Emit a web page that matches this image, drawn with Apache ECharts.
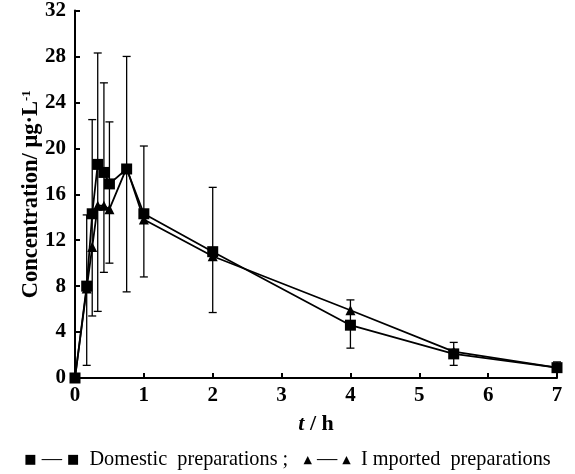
<!DOCTYPE html>
<html>
<head>
<meta charset="utf-8">
<script src="https://cdn.jsdelivr.net/npm/echarts@6/dist/echarts.min.js"></script>
<style>
  html, body { margin: 0; padding: 0; background: #fff; }
  #chart { width: 575px; height: 474px; }
</style>
</head>
<body>
<div id="chart"></div>
<script>
  // 时间点 (h)
  var times = [0, 0.17, 0.25, 0.33, 0.42, 0.5, 0.75, 1, 2, 4, 5.5, 7]
  // 国产制剂
  var domestic = [0, 8.0, 14.3, 18.6, 17.9, 16.9, 18.2, 14.3, 11.0, 4.6, 2.1, 0.9]
  // 进口制剂
  var imported = [0, 7.8, 11.4, 15.0, 15.0, 14.7, 18.3, 13.8, 10.6, 5.9, 2.3, 0.9]
  // 误差棒上下端
  var errHigh = [0, 14.2, 22.5, 28.3, 25.7, 22.3, 28.0, 20.2, 16.6, 6.8, 3.1, 1.4]
  var errLow = [0, 1.1, 5.4, 5.8, 9.2, 10.0, 7.5, 8.8, 5.7, 2.6, 1.1, 0.5]
  var yTicks = [0, 4, 8, 12, 16, 20, 24, 28, 32]

  var font = 'Liberation Serif'

  function pairs(ys) {
    return times.map(function (t, i) { return [t, ys[i]] })
  }

  var errData = times.map(function (t, i) { return [t, errLow[i], errHigh[i]] })
    .filter(function (d) { return d[2] > d[1] })

  var chart = echarts.init(document.getElementById('chart'))
  var option = {
    animation: false,
    grid: { left: 75, right: 18, top: 10, bottom: 96 },
    xAxis: {
      type: 'value', min: 0, max: 7, interval: 1,
      name: '{i|t} / h',
      nameLocation: 'middle', nameGap: 35,
      nameTextStyle: {
        fontFamily: font, fontWeight: 'bold', fontSize: 22, color: '#000',
        rich: { i: { fontFamily: font, fontWeight: 'bold', fontStyle: 'italic', fontSize: 22, color: '#000' } }
      },
      axisLine: { onZero: false, lineStyle: { color: '#000', width: 2 } },
      axisTick: { inside: true, length: 5, lineStyle: { color: '#000', width: 2 } },
      axisLabel: { fontFamily: font, fontWeight: 'bold', fontSize: 21, color: '#000', margin: 7 },
      splitLine: { show: false }
    },
    yAxis: {
      type: 'value', min: 0, max: 32, interval: 4,
      name: 'Concentration/ μg·L{s|-1}',
      nameLocation: 'middle', nameGap: 32,
      nameMoveOverlap: false,
      nameTextStyle: {
        fontFamily: font, fontWeight: 'bold', fontSize: 22.5, color: '#000',
        rich: { s: { fontFamily: font, fontWeight: 'bold', fontSize: 13, color: '#000', verticalAlign: 'top', padding: [0, 0, 10, 0] } }
      },
      axisLine: { show: true, lineStyle: { color: '#000', width: 2 } },
      axisTick: { inside: true, length: 5, lineStyle: { color: '#000', width: 2 } },
      axisLabel: {
        fontFamily: font, fontWeight: 'bold', fontSize: 21, color: '#000', margin: 9,
        formatter: function (v) { return yTicks.indexOf(v) >= 0 ? String(v) : '' }
      },
      splitLine: { show: false }
    },
    series: [
      {
        type: 'custom',
        data: errData,
        z: 1,
        renderItem: function (params, api) {
          var x = api.value(0)
          var lo = api.coord([x, api.value(1)])
          var hi = api.coord([x, api.value(2)])
          var w = 4
          var st = { stroke: '#000', lineWidth: 1.3 }
          return {
            type: 'group',
            children: [
              { type: 'line', shape: { x1: lo[0], y1: lo[1], x2: hi[0], y2: hi[1] }, style: st },
              { type: 'line', shape: { x1: hi[0] - w, y1: hi[1], x2: hi[0] + w, y2: hi[1] }, style: st },
              { type: 'line', shape: { x1: lo[0] - w, y1: lo[1], x2: lo[0] + w, y2: lo[1] }, style: st }
            ]
          }
        }
      },
      {
        name: 'Imported preparations',
        type: 'line',
        data: pairs(imported),
        symbol: 'triangle', symbolSize: 10,
        lineStyle: { color: '#000', width: 1.8 },
        itemStyle: { color: '#000' },
        z: 2
      },
      {
        name: 'Domestic preparations',
        type: 'line',
        data: pairs(domestic),
        symbol: 'rect', symbolSize: 11,
        lineStyle: { color: '#000', width: 1.8 },
        itemStyle: { color: '#000' },
        z: 3
      }
    ],
    graphic: [
      {
        type: 'text', left: 'center', top: 450,
        style: {
          text: '{m|■} — {m|■}  Domestic  preparations ;   {t|▲} — {t|▲}  I mported  preparations',
          fontFamily: font, fontSize: 20.3, fill: '#000',
          rich: {
            m: { fontFamily: 'DejaVu Sans', fontSize: 13, fill: '#000' },
            t: { fontFamily: 'DejaVu Sans', fontSize: 11, fill: '#000' }
          }
        }
      }
    ]
  }
  chart.setOption(option)
</script>
</body>
</html>
